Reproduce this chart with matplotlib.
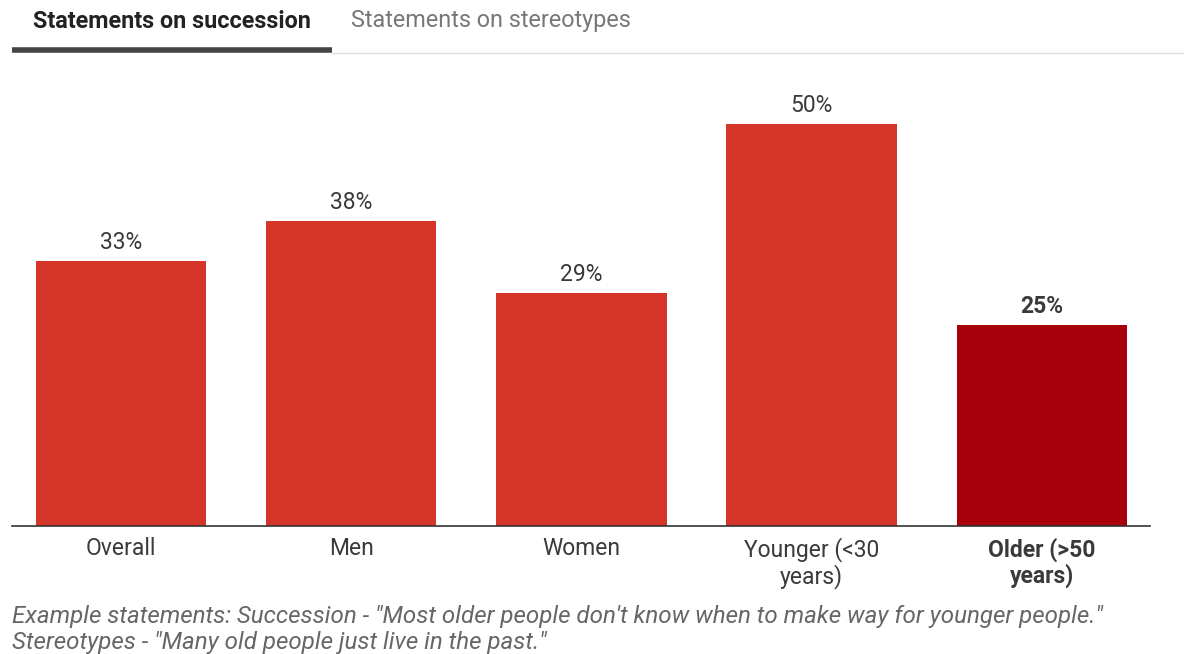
import matplotlib.pyplot as plt
from matplotlib.lines import Line2D

plt.rcParams['font.family'] = ['Roboto', 'DejaVu Sans']

categories = ['Overall', 'Men', 'Women', 'Younger (<30\nyears)', 'Older (>50\nyears)']
values = [33, 38, 29, 50, 25]
highlight = [False, False, False, False, True]

red = '#d6352a'
dark_red = '#a8000a'
text_col = '#3a3a3a'

W, H = 1184, 654
fig = plt.figure(figsize=(W / 100, H / 100), dpi=100)
ax = fig.add_axes([12 / W, (H - 526) / H, 1138 / W, 442 / H])

x = range(len(values))
colors = [dark_red if h else red for h in highlight]
ax.bar(x, values, width=0.74, color=colors, zorder=2)
ax.set_xlim(-0.474, 4.47)
ax.set_ylim(0, 55)

for i, v in enumerate(values):
    ax.annotate(f'{v}%', (i, v), xytext=(0, 5), textcoords='offset points',
                ha='center', va='bottom', fontsize=16.5, color=text_col,
                fontweight='bold' if highlight[i] else 'normal')

ax.set_xticks(list(x))
ax.set_xticklabels(categories, fontsize=16.5, color=text_col, linespacing=1.12)
for lbl, h in zip(ax.get_xticklabels(), highlight):
    if h:
        lbl.set_fontweight('bold')
ax.tick_params(axis='x', length=0, pad=8)
ax.set_yticks([])
for s in ['top', 'right', 'left']:
    ax.spines[s].set_visible(False)
ax.spines['bottom'].set_color('#333333')
ax.spines['bottom'].set_linewidth(1.2)

# tab header
fig.text(33 / W, 1 - 21 / H, 'Statements on succession', fontsize=16.8,
         fontweight='bold', color='#222222', va='center', ha='left')
fig.text(351 / W, 1 - 21 / H, 'Statements on stereotypes', fontsize=16.8,
         color='#777777', va='center', ha='left')
fig.add_artist(Line2D([332 / W, 1.0], [1 - 53 / H] * 2, color='#dddddd', lw=1))
fig.add_artist(Line2D([12 / W, 332 / W], [1 - 50 / H] * 2, color='#444444', lw=4,
                      solid_capstyle='butt'))

# footnote
fig.text(12 / W, 1 - 617 / H,
         'Example statements: Succession - "Most older people don\'t know when to make way for younger people."',
         fontsize=17.4, style='italic', color='#666666', va='center', ha='left')
fig.text(12 / W, 1 - 642 / H, 'Stereotypes - "Many old people just live in the past."',
         fontsize=17.4, style='italic', color='#666666', va='center', ha='left')

fig.savefig('out.png', dpi=100)
